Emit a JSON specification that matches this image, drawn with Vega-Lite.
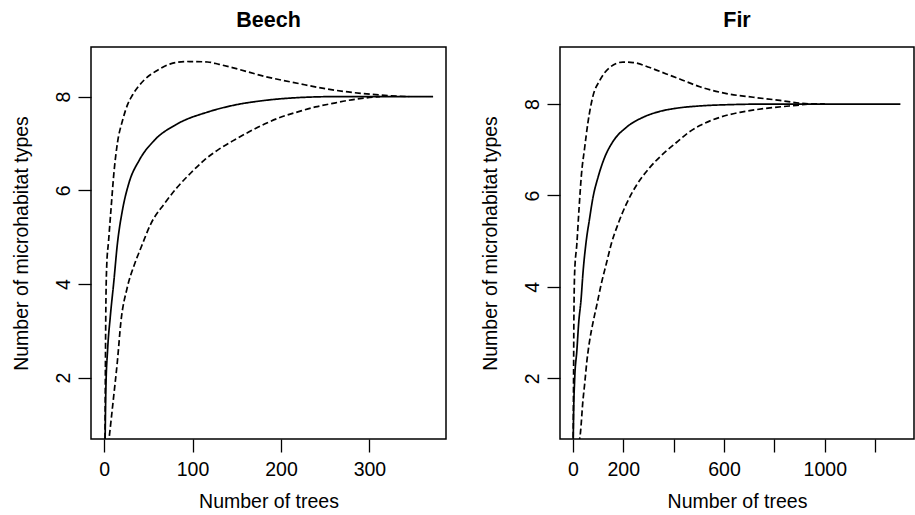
{
  "$schema": "https://vega.github.io/schema/vega-lite/v6.json",
  "background": "white",
  "padding": {"left": 10, "top": 8, "right": 0, "bottom": 0},
  "bounds": "flush",
  "spacing": 114,
  "datasets": {
    "beech": [
      {"series": "lower", "x": 1, "y": 0.0},
      {"series": "lower", "x": 5, "y": 0.6},
      {"series": "lower", "x": 11, "y": 1.63},
      {"series": "lower", "x": 15, "y": 2.34},
      {"series": "lower", "x": 19, "y": 3.19},
      {"series": "lower", "x": 26, "y": 3.91},
      {"series": "lower", "x": 34, "y": 4.4},
      {"series": "lower", "x": 42, "y": 4.79},
      {"series": "lower", "x": 53, "y": 5.29},
      {"series": "lower", "x": 68, "y": 5.71},
      {"series": "lower", "x": 83, "y": 6.07},
      {"series": "lower", "x": 98, "y": 6.37},
      {"series": "lower", "x": 113, "y": 6.64},
      {"series": "lower", "x": 130, "y": 6.88},
      {"series": "lower", "x": 145, "y": 7.05},
      {"series": "lower", "x": 164, "y": 7.25},
      {"series": "lower", "x": 182, "y": 7.42},
      {"series": "lower", "x": 201, "y": 7.57},
      {"series": "lower", "x": 220, "y": 7.68},
      {"series": "lower", "x": 239, "y": 7.78},
      {"series": "lower", "x": 257, "y": 7.85},
      {"series": "lower", "x": 276, "y": 7.92},
      {"series": "lower", "x": 295, "y": 7.97},
      {"series": "lower", "x": 312, "y": 8.0},
      {"series": "upper", "x": 1, "y": 0.5},
      {"series": "upper", "x": 2, "y": 3.5},
      {"series": "upper", "x": 3, "y": 4.4},
      {"series": "upper", "x": 5, "y": 4.9},
      {"series": "upper", "x": 8, "y": 5.64},
      {"series": "upper", "x": 11, "y": 6.35},
      {"series": "upper", "x": 15, "y": 7.0},
      {"series": "upper", "x": 21, "y": 7.5},
      {"series": "upper", "x": 27, "y": 7.85},
      {"series": "upper", "x": 32, "y": 8.03},
      {"series": "upper", "x": 45, "y": 8.35},
      {"series": "upper", "x": 60, "y": 8.56},
      {"series": "upper", "x": 75, "y": 8.7},
      {"series": "upper", "x": 94, "y": 8.75},
      {"series": "upper", "x": 117, "y": 8.74},
      {"series": "upper", "x": 130, "y": 8.69},
      {"series": "upper", "x": 145, "y": 8.62},
      {"series": "upper", "x": 182, "y": 8.43},
      {"series": "upper", "x": 220, "y": 8.28},
      {"series": "upper", "x": 250, "y": 8.17},
      {"series": "upper", "x": 276, "y": 8.1},
      {"series": "upper", "x": 302, "y": 8.05},
      {"series": "upper", "x": 333, "y": 8.01},
      {"series": "upper", "x": 345, "y": 8.0},
      {"series": "mean", "x": 1, "y": 0.4},
      {"series": "mean", "x": 2, "y": 1.75},
      {"series": "mean", "x": 4, "y": 2.6},
      {"series": "mean", "x": 7, "y": 3.3},
      {"series": "mean", "x": 11, "y": 4.05},
      {"series": "mean", "x": 15, "y": 4.85},
      {"series": "mean", "x": 21, "y": 5.6},
      {"series": "mean", "x": 28, "y": 6.15},
      {"series": "mean", "x": 40, "y": 6.65},
      {"series": "mean", "x": 57, "y": 7.07},
      {"series": "mean", "x": 83, "y": 7.42},
      {"series": "mean", "x": 117, "y": 7.67},
      {"series": "mean", "x": 145, "y": 7.81},
      {"series": "mean", "x": 182, "y": 7.92},
      {"series": "mean", "x": 220, "y": 7.98},
      {"series": "mean", "x": 260, "y": 8.0},
      {"series": "mean", "x": 372, "y": 8.0}
    ],
    "fir": [
      {"series": "lower", "x": 1, "y": 0.0},
      {"series": "lower", "x": 25, "y": 0.6},
      {"series": "lower", "x": 30, "y": 0.8},
      {"series": "lower", "x": 40, "y": 1.51},
      {"series": "lower", "x": 47, "y": 1.88},
      {"series": "lower", "x": 56, "y": 2.39},
      {"series": "lower", "x": 66, "y": 2.8},
      {"series": "lower", "x": 80, "y": 3.22},
      {"series": "lower", "x": 95, "y": 3.6},
      {"series": "lower", "x": 113, "y": 4.07},
      {"series": "lower", "x": 133, "y": 4.51},
      {"series": "lower", "x": 153, "y": 4.95},
      {"series": "lower", "x": 179, "y": 5.37},
      {"series": "lower", "x": 212, "y": 5.81},
      {"series": "lower", "x": 252, "y": 6.22},
      {"series": "lower", "x": 305, "y": 6.61},
      {"series": "lower", "x": 358, "y": 6.91},
      {"series": "lower", "x": 411, "y": 7.16},
      {"series": "lower", "x": 457, "y": 7.37},
      {"series": "lower", "x": 504, "y": 7.53},
      {"series": "lower", "x": 583, "y": 7.71},
      {"series": "lower", "x": 663, "y": 7.82},
      {"series": "lower", "x": 756, "y": 7.9},
      {"series": "lower", "x": 862, "y": 7.96},
      {"series": "lower", "x": 954, "y": 8.0},
      {"series": "lower", "x": 1000, "y": 8.0},
      {"series": "upper", "x": 1, "y": 0.5},
      {"series": "upper", "x": 3, "y": 2.1},
      {"series": "upper", "x": 4, "y": 3.2},
      {"series": "upper", "x": 7, "y": 4.29},
      {"series": "upper", "x": 16, "y": 4.95},
      {"series": "upper", "x": 25, "y": 5.75},
      {"series": "upper", "x": 34, "y": 6.45},
      {"series": "upper", "x": 47, "y": 7.05},
      {"series": "upper", "x": 60, "y": 7.6},
      {"series": "upper", "x": 80, "y": 8.18},
      {"series": "upper", "x": 106, "y": 8.51},
      {"series": "upper", "x": 146, "y": 8.8},
      {"series": "upper", "x": 199, "y": 8.92},
      {"series": "upper", "x": 239, "y": 8.91},
      {"series": "upper", "x": 305, "y": 8.8},
      {"series": "upper", "x": 371, "y": 8.66},
      {"series": "upper", "x": 424, "y": 8.55},
      {"series": "upper", "x": 504, "y": 8.38},
      {"series": "upper", "x": 610, "y": 8.23},
      {"series": "upper", "x": 716, "y": 8.15},
      {"series": "upper", "x": 822, "y": 8.08},
      {"series": "upper", "x": 888, "y": 8.03},
      {"series": "upper", "x": 954, "y": 8.0},
      {"series": "upper", "x": 1000, "y": 8.0},
      {"series": "mean", "x": 1, "y": 0.4},
      {"series": "mean", "x": 3, "y": 1.22},
      {"series": "mean", "x": 7, "y": 1.95},
      {"series": "mean", "x": 16, "y": 2.61},
      {"series": "mean", "x": 23, "y": 3.2},
      {"series": "mean", "x": 33, "y": 3.75},
      {"series": "mean", "x": 40, "y": 4.29},
      {"series": "mean", "x": 53, "y": 5.0},
      {"series": "mean", "x": 66, "y": 5.48},
      {"series": "mean", "x": 80, "y": 5.96},
      {"series": "mean", "x": 100, "y": 6.4},
      {"series": "mean", "x": 126, "y": 6.83},
      {"series": "mean", "x": 159, "y": 7.18},
      {"series": "mean", "x": 212, "y": 7.49},
      {"series": "mean", "x": 278, "y": 7.71},
      {"series": "mean", "x": 345, "y": 7.84},
      {"series": "mean", "x": 411, "y": 7.91},
      {"series": "mean", "x": 504, "y": 7.96},
      {"series": "mean", "x": 636, "y": 7.99},
      {"series": "mean", "x": 750, "y": 8.0},
      {"series": "mean", "x": 1300, "y": 8.0}
    ]
  },
  "hconcat": [
    {
      "title": {"text": "Beech"},
      "width": 355,
      "height": 392,
      "data": {"name": "beech"},
      "mark": {"type": "line", "clip": true, "color": "black", "strokeWidth": 1.7, "interpolate": "monotone"},
      "encoding": {
        "x": {"field": "x", "type": "quantitative", "scale": {"domain": [-14.8, 386.6], "nice": false, "zero": false},
              "axis": {"values": [0, 100, 200, 300], "format": "d", "title": "Number of trees"}},
        "y": {"field": "y", "type": "quantitative", "scale": {"domain": [0.69, 9.06], "nice": false, "zero": false},
              "axis": {"values": [2, 4, 6, 8], "title": "Number of microhabitat types"}},
        "detail": {"field": "series"},
        "strokeDash": {"field": "series", "type": "nominal", "scale": {"domain": ["lower", "upper", "mean"], "range": [[6, 3], [6, 3], [1, 0]]}, "legend": null},
        "order": {"field": "x", "type": "quantitative"}
      }
    },
    {
      "title": {"text": "Fir"},
      "width": 354,
      "height": 392,
      "data": {"name": "fir"},
      "mark": {"type": "line", "clip": true, "color": "black", "strokeWidth": 1.7, "interpolate": "monotone"},
      "encoding": {
        "x": {"field": "x", "type": "quantitative", "scale": {"domain": [-51, 1354], "nice": false, "zero": false},
              "axis": {"values": [0, 200, 400, 600, 800, 1000, 1200], "format": "d", "labelOverlap": false, "labelExpr": "indexof([0, 200, 600, 1000], datum.value) >= 0 ? datum.label : ''", "title": "Number of trees"}},
        "y": {"field": "y", "type": "quantitative", "scale": {"domain": [0.67, 9.25], "nice": false, "zero": false},
              "axis": {"values": [2, 4, 6, 8], "title": "Number of microhabitat types"}},
        "detail": {"field": "series"},
        "strokeDash": {"field": "series", "type": "nominal", "scale": {"domain": ["lower", "upper", "mean"], "range": [[6, 3], [6, 3], [1, 0]]}, "legend": null},
        "order": {"field": "x", "type": "quantitative"}
      }
    }
  ],
  "config": {
    "font": "Liberation Sans",
    "view": {"stroke": "black", "strokeWidth": 1.5},
    "axis": {"grid": false, "domain": false, "tickColor": "black", "tickSize": 13, "tickWidth": 1.3,
             "labelColor": "black", "labelFontSize": 19.5, "titleFontSize": 19.5, "titleFontWeight": "normal",
             "titleColor": "black", "labelFont": "Liberation Sans", "titleFont": "Liberation Sans"},
    "axisY": {"labelAngle": -90, "labelAlign": "center", "labelBaseline": "alphabetic", "labelPadding": 9, "titlePadding": 22},
    "axisX": {"labelPadding": 8, "titlePadding": 14},
    "title": {"fontSize": 21.5, "fontWeight": "bold", "font": "Liberation Sans", "color": "black", "offset": 16}
  }
}
